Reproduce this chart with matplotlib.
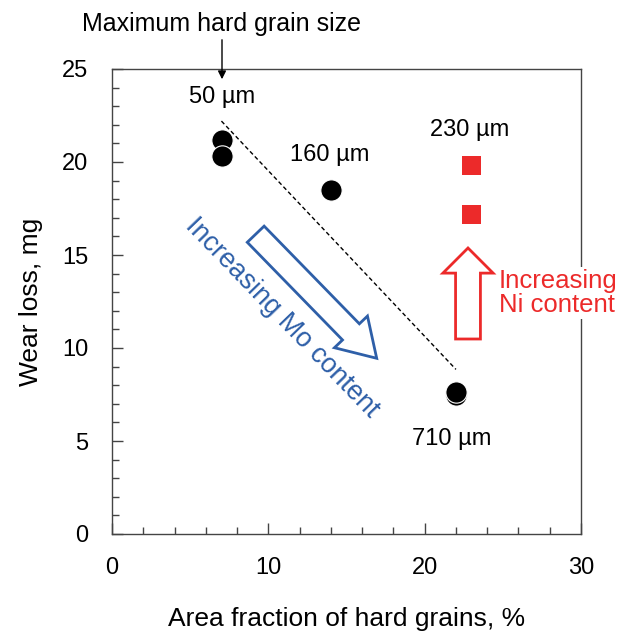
import matplotlib
matplotlib.use("Agg")
import matplotlib.pyplot as plt
from matplotlib.patches import FancyArrow
from matplotlib.ticker import MultipleLocator

plt.rcParams['font.family'] = ['Liberation Sans', 'DejaVu Sans']

# Mo-series specimens (black circles); later points are drawn on top
mo_area = [7.05, 7.05, 14.0, 22.0, 22.0]
mo_wear = [21.2, 20.3, 18.5, 7.45, 7.65]

# Ni-series specimens (red squares)
ni_area = [23.0, 23.0]
ni_wear = [19.8, 17.2]

# Trend line through the Mo series
trend_x = [7.0, 22.0]
trend_y = [22.2, 8.85]

# Grain-size annotations
size_labels = ["50 µm", "160 µm", "230 µm", "710 µm"]
size_x = [7.05, 13.9, 22.9, 21.7]
size_y = [23.5, 20.4, 21.7, 5.1]

x_ticks = [0, 10, 20, 30]
y_ticks = [0, 5, 10, 15, 20, 25]

BLUE = '#2e5fa8'
RED = '#ec2a2a'
SPINE = '#444444'

fig = plt.figure(figsize=(6.24, 6.34), dpi=100)
ax = fig.add_axes([112 / 624, 1 - 534 / 634, 469 / 624, 465 / 634])

ax.set_xlim(0, 30)
ax.set_ylim(0, 25)
ax.set_xticks(x_ticks)
ax.set_yticks(y_ticks)
ax.xaxis.set_minor_locator(MultipleLocator(2))
ax.yaxis.set_minor_locator(MultipleLocator(1))
ax.tick_params(which='both', direction='in', top=False, right=False,
               color=SPINE, labelsize=17)
ax.tick_params(axis='x', which='major', pad=16.5)
ax.tick_params(axis='y', which='major', pad=17)
ax.tick_params(which='major', length=8, width=1)
ax.tick_params(which='minor', length=5, width=1)
for s in ax.spines.values():
    s.set_color(SPINE)
    s.set_linewidth(1)

ax.set_xlabel("Area fraction of hard grains, %", fontsize=19, labelpad=20)
ax.set_ylabel("Wear loss, mg", fontsize=19, labelpad=14)

ax.plot(trend_x, trend_y, linestyle=(0, (3, 2)), color='black', linewidth=1, zorder=2)

ax.scatter(mo_area, mo_wear, s=235, marker='o', color='black',
           edgecolors='white', linewidths=0.8, zorder=4)
ax.scatter(ni_area, ni_wear, s=190, marker='s', color=RED,
           edgecolors='none', zorder=4)

for lab, x, y in zip(size_labels, size_x, size_y):
    ax.text(x, y, lab, fontsize=17, ha='center', va='center', zorder=5)

# Title note with pointer to the 50 µm label
fig.text(222 / 624, 1 - 31 / 634, "Maximum hard grain size", fontsize=18,
         ha='center', va='baseline')
ax.annotate("", xy=(222 / 624, 1 - 82 / 634), xycoords='figure fraction',
            xytext=(222 / 624, 1 - 37 / 634), textcoords='figure fraction',
            arrowprops=dict(arrowstyle='-|>', color='black', lw=1,
                            mutation_scale=12), annotation_clip=False)

# Hollow blue arrow (Mo)
bx0, by0 = (255.7 - 112) / 469, (534 - 234.2) / 465
bx1, by1 = (376.7 - 112) / 469, (534 - 358.3) / 465
ax.add_patch(FancyArrow(bx0, by0, bx1 - bx0, by1 - by0, width=0.050,
                        head_width=0.098, head_length=0.079,
                        length_includes_head=True, transform=ax.transAxes,
                        facecolor='white', edgecolor=BLUE, linewidth=2, zorder=3))
ax.text(0.363, 0.465, "Increasing Mo content", transform=ax.transAxes,
        fontsize=19.5, color=BLUE, rotation=-46, rotation_mode='anchor',
        ha='center', va='center', zorder=5)

# Hollow red arrow (Ni)
rx, ry0, ry1 = (468 - 112) / 469, (534 - 339) / 465, (534 - 248) / 465
ax.add_patch(FancyArrow(rx, ry0, 0, ry1 - ry0, width=0.053,
                        head_width=0.107, head_length=0.054,
                        length_includes_head=True, transform=ax.transAxes,
                        facecolor='white', edgecolor=RED, linewidth=2, zorder=3))
ax.text(499 / 624, 1 - 293 / 634, "Increasing\nNi content", transform=fig.transFigure,
        fontsize=18.5, color=RED, ha='left', va='center', linespacing=1.05,
        bbox=dict(facecolor='white', edgecolor='none', pad=1), zorder=6)

fig.savefig("out.png", dpi=100)
